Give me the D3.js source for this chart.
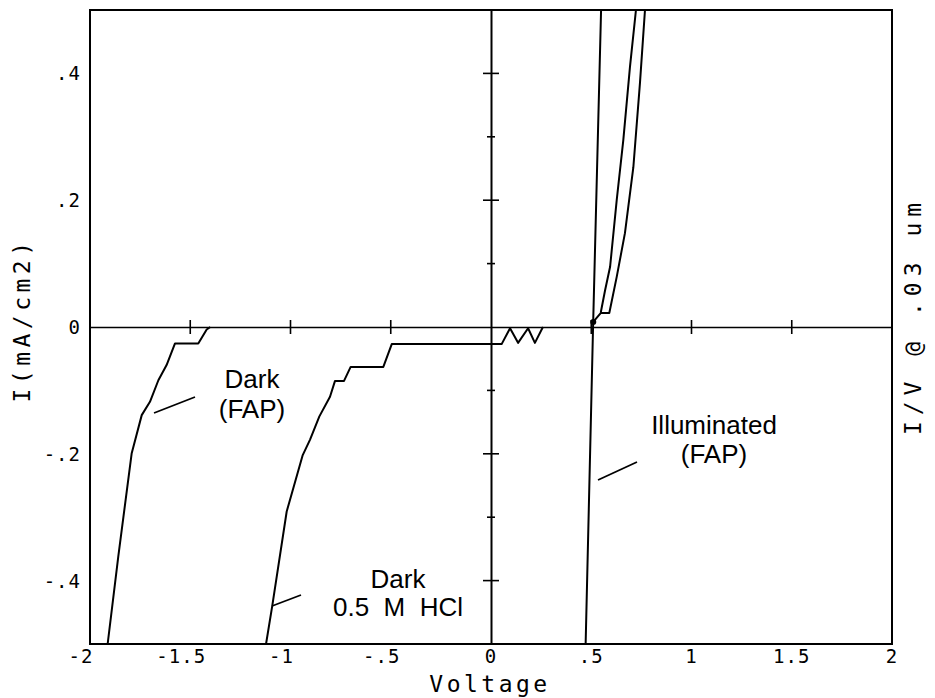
<!DOCTYPE html>
<html><head><meta charset="utf-8">
<script src="https://cdn.jsdelivr.net/npm/d3@7"></script>
<style>body{margin:0;background:#fff}svg{display:block}</style>
</head><body>
<svg id="c" width="935" height="698"></svg>
<script>
// ---- data ----
const xTicks = [-2, -1.5, -1, -0.5, 0, 0.5, 1, 1.5, 2];
const xTickLabels = ["-2", "-1.5", "-1", "-.5", "0", ".5", "1", "1.5", "2"];
const yTicks = [0.4, 0.2, 0, -0.2, -0.4];
const yTickLabels = [".4", ".2", "0", "-.2", "-.4"];
const yAxisTicks = [0.4, 0.3, 0.2, 0.1, -0.1, -0.2, -0.3, -0.4];
const xAxisTicks = [-1.5, -1, -0.5, 0.5, 1, 1.5];

const darkFapV = [-1.912, -1.859, -1.792, -1.742, -1.701, -1.659, -1.618, -1.576, -1.460, -1.418, -1.40];
const darkFapI = [-0.5, -0.362, -0.199, -0.139, -0.118, -0.084, -0.060, -0.026, -0.026, -0.004, 0];

const darkHclV = [-1.122, -1.091, -1.019, -0.939, -0.903, -0.856, -0.803, -0.778, -0.733, -0.700, -0.537, -0.495, 0.053, 0.095, 0.135, 0.185, 0.219, 0.259];
const darkHclI = [-0.5, -0.44, -0.291, -0.202, -0.178, -0.141, -0.110, -0.085, -0.085, -0.063, -0.063, -0.027, -0.027, -0.002, -0.025, -0.002, -0.025, 0];

const illumV = [0.472, 0.509, 0.549];
const illumI = [-0.5, 0, 0.5];

const fwdAV = [0.510, 0.547, 0.569, 0.594, 0.627, 0.660, 0.693, 0.723];
const fwdAI = [0.008, 0.022, 0.058, 0.095, 0.200, 0.295, 0.410, 0.500];

const fwdBV = [0.547, 0.590, 0.627, 0.668, 0.710, 0.743, 0.768];
const fwdBI = [0.022, 0.022, 0.079, 0.148, 0.252, 0.385, 0.500];

// ---- layout ----
const svg = d3.select("#c");
const x = d3.scaleLinear().domain([-2, 2]).range([90, 892]);
const y = d3.scaleLinear().domain([-0.5, 0.5]).range([644, 10]);
const mono = "'DejaVu Sans Mono', monospace";
const sans = "'Liberation Sans', Arial, sans-serif";

svg.append("defs").append("clipPath").attr("id", "clip")
  .append("rect").attr("x", x(-2)).attr("y", y(0.5)).attr("width", x(2) - x(-2)).attr("height", y(-0.5) - y(0.5));

// frame
svg.append("rect").attr("x", x(-2)).attr("y", y(0.5)).attr("width", x(2) - x(-2)).attr("height", y(-0.5) - y(0.5))
  .attr("fill", "none").attr("stroke", "#000").attr("stroke-width", 2);

// axes through origin
const gx = svg.append("g").attr("transform", `translate(0,${y(0)})`);
gx.call(d3.axisBottom(x).tickValues(xAxisTicks).tickSize(0).tickFormat(""));
gx.select(".domain").attr("stroke-width", 1.6);
gx.selectAll(".xt").data(xAxisTicks).join("line")
  .attr("x1", d => x(d)).attr("x2", d => x(d)).attr("y1", -7).attr("y2", 7)
  .attr("stroke", "#000").attr("stroke-width", 1.6);

const gy = svg.append("g").attr("transform", `translate(${x(0)},0)`);
gy.call(d3.axisLeft(y).tickValues(yAxisTicks).tickSize(0).tickFormat(""));
gy.select(".domain").attr("stroke-width", 2);
gy.selectAll(".yt").data(yAxisTicks).join("line")
  .attr("y1", d => y(d)).attr("y2", d => y(d))
  .attr("x1", d => (Math.round(d * 10) % 2 === 0) ? -8 : -4)
  .attr("x2", d => (Math.round(d * 10) % 2 === 0) ? 8 : 4)
  .attr("stroke", "#000").attr("stroke-width", 1.6);

// tick labels
svg.append("g").selectAll("text").data(xTicks).join("text")
  .attr("x", (d, i) => x(d) + (d < 0 ? -9 : 0))
  .attr("y", 663)
  .attr("text-anchor", "middle")
  .attr("font-family", mono).attr("font-size", 19).attr("letter-spacing", 1)
  .text((d, i) => xTickLabels[i]);

svg.append("g").selectAll("text").data(yTicks).join("text")
  .attr("x", 81)
  .attr("y", d => y(d) + 7)
  .attr("text-anchor", "end")
  .attr("font-family", mono).attr("font-size", 19).attr("letter-spacing", 1)
  .text((d, i) => yTickLabels[i]);

// axis titles
svg.append("text").attr("x", 490).attr("y", 692).attr("text-anchor", "middle")
  .attr("font-family", mono).attr("font-size", 23).attr("letter-spacing", 3.5).text("Voltage");
svg.append("text").attr("transform", "translate(30,320) rotate(-90)").attr("text-anchor", "middle")
  .attr("font-family", mono).attr("font-size", 23).attr("letter-spacing", 4.5).text("I(mA/cm2)");
svg.append("text").attr("transform", "translate(921,316) rotate(-90)").attr("text-anchor", "middle")
  .attr("font-family", mono).attr("font-size", 23).attr("letter-spacing", 6).text("I/V @ .03 um");

// curves
const line = d3.line().x(d => x(d[0])).y(d => y(d[1]));
const series = [
  [darkFapV, darkFapI],
  [darkHclV, darkHclI],
  [illumV, illumI],
  [fwdAV, fwdAI],
  [fwdBV, fwdBI]
];
const gc = svg.append("g").attr("clip-path", "url(#clip)");
series.forEach(([vs, is]) => {
  gc.append("path").datum(vs.map((v, i) => [v, is[i]]))
    .attr("d", line).attr("fill", "none").attr("stroke", "#000")
    .attr("stroke-width", 2).attr("stroke-linejoin", "round");
});
gc.append("circle").attr("cx", x(fwdAV[0])).attr("cy", y(fwdAI[0])).attr("r", 3).attr("fill", "#000");

// annotations
const ann = [
  {lines: ["Dark", "(FAP)"], cx: 252, y0: 388, dy: 30, lead: [[154, 413], [195, 397]]},
  {lines: ["Illuminated", "(FAP)"], cx: 714, y0: 434, dy: 29, lead: [[598, 480], [637, 462]]},
  {lines: ["Dark", "0.5  M  HCl"], cx: 398, y0: 588, dy: 28, lead: [[272, 606], [301, 595]]}
];
ann.forEach(a => {
  a.lines.forEach((t, i) => {
    svg.append("text").attr("x", a.cx).attr("y", a.y0 + i * a.dy).attr("text-anchor", "middle")
      .attr("font-family", sans).attr("font-size", 26).attr("xml:space", "preserve")
      .style("white-space", "pre").text(t);
  });
  svg.append("line").attr("x1", a.lead[0][0]).attr("y1", a.lead[0][1])
    .attr("x2", a.lead[1][0]).attr("y2", a.lead[1][1]).attr("stroke", "#000").attr("stroke-width", 1.8);
});
</script>
</body></html>
